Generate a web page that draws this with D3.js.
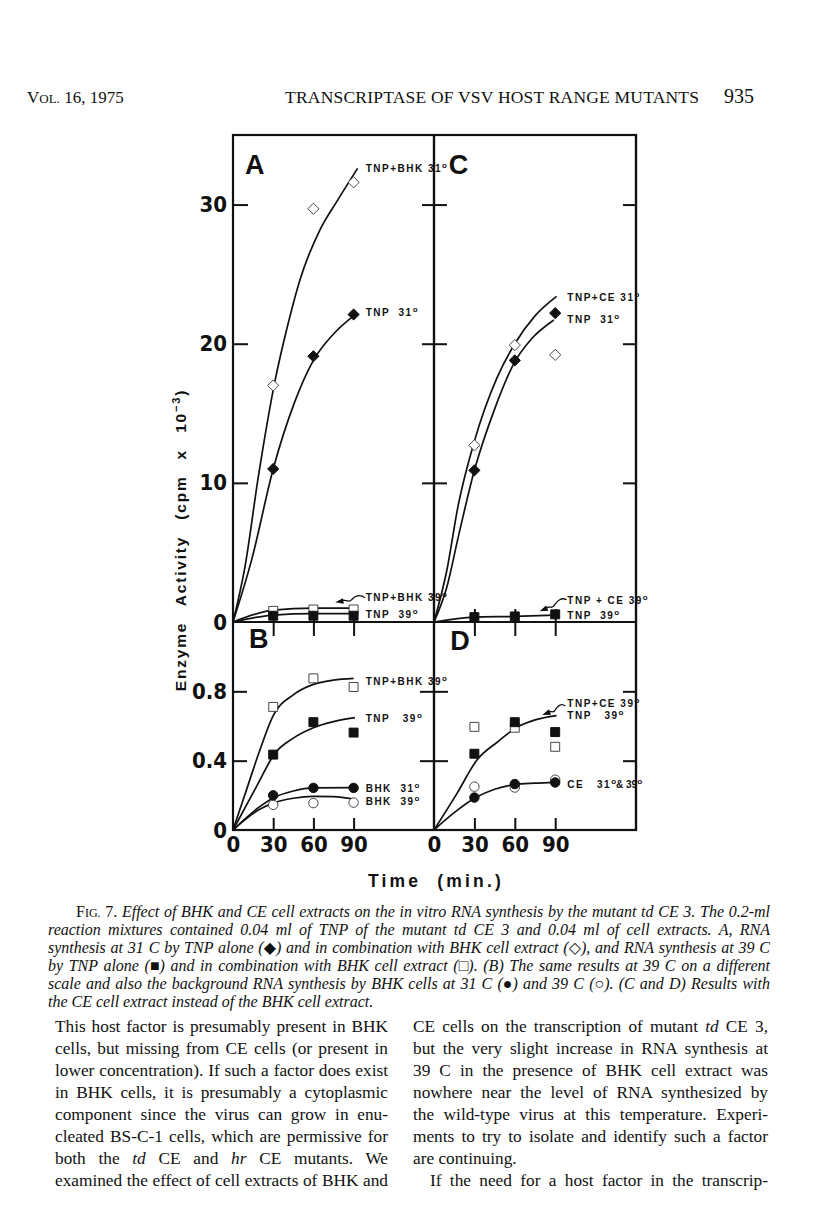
<!DOCTYPE html>
<html>
<head>
<meta charset="utf-8">
<script src="https://cdn.jsdelivr.net/npm/d3@7"></script>
<style>
  body { margin: 0; background: #fff; }
  text { fill: #111; }
</style>
</head>
<body>
<div id="page"></div>
<script>

// ---- values (time in min, activity in cpm x 10^-3) ----
var timeTicks   = [30, 60, 90];
var timeLabels  = [0, 30, 60, 90];
var topTicks    = [10, 20, 30];
var topLabels   = [0, 10, 20, 30];
var lowTicks    = [0.4, 0.8];
var lowLabels   = [0, 0.4, 0.8];

// panel A (31 C and 39 C, BHK extract)
var aTnpBhk31   = [[30, 17.0], [60, 29.7], [90, 31.6]];
var aTnp31      = [[30, 11.0], [60, 19.1], [90, 22.1]];
var aTnpBhk39   = [[30, 0.8], [60, 0.9], [90, 0.9]];
var aTnp39      = [[30, 0.45], [60, 0.45], [90, 0.45]];
var aTnpBhk31Fit = [[0, 0], [9, 4.0], [19, 10.5], [31.5, 17.4], [40, 21.0], [50, 24.6], [65, 28.2], [78, 30.3], [93, 32.6]];
var aTnp31Fit    = [[0, 0], [14, 4.5], [30, 11.0], [46, 15.8], [60, 18.8], [75, 20.7], [90, 22.0]];
var aTnpBhk39Fit = [[0, 0], [30, 0.85], [60, 1.0], [90, 1.0]];
var aTnp39Fit    = [[0, 0], [30, 0.5], [60, 0.6], [90, 0.6]];

// panel C (CE extract)
var cTnpCe31    = [[30, 12.7], [60, 19.9], [90, 19.2]];
var cTnp31      = [[30, 10.9], [60, 18.8], [90, 22.2]];
var cTnp39      = [[30, 0.35], [60, 0.4], [90, 0.55]];
var cTnpCe31Fit = [[0, 0], [9.5, 3.7], [18, 8.4], [30, 13.0], [47, 17.6], [60, 20.0], [75, 22.0], [91, 23.4]];
var cTnp31Fit   = [[0, 0], [9.5, 2.5], [18, 6.1], [30, 10.9], [45, 15.3], [60, 18.7], [72, 20.3], [89, 21.7]];
var cTnp39Fit   = [[0, 0], [30, 0.35], [60, 0.4], [90, 0.5]];

// panel B (39 C on expanded scale, BHK cells alone)
var bTnpBhk39   = [[30, 0.71], [60, 0.875], [90, 0.825]];
var bTnp39      = [[30, 0.435], [60, 0.622], [90, 0.562]];
var bBhk31      = [[30, 0.2], [60, 0.243], [90, 0.243]];
var bBhk39      = [[30, 0.145], [60, 0.155], [90, 0.158]];
var bTnpBhk39Fit = [[0, 0], [10, 0.23], [20, 0.46], [30, 0.66], [45, 0.78], [60, 0.84], [75, 0.865], [90, 0.875]];
var bTnp39Fit    = [[0, 0], [17.5, 0.25], [31.5, 0.445], [45, 0.53], [60, 0.59], [75, 0.625], [91, 0.648]];
var bBhk31Fit    = [[0, 0], [20, 0.135], [30, 0.185], [45, 0.225], [60, 0.243], [90, 0.245]];
var bBhk39Fit    = [[0, 0], [20, 0.12], [30, 0.155], [45, 0.183], [60, 0.194], [75, 0.193], [90, 0.178]];

// panel D (CE extract, CE cells alone)
var dTnpCe39    = [[30, 0.595], [60, 0.59], [90, 0.48]];
var dTnp39      = [[30, 0.44], [60, 0.622], [90, 0.565]];
var dCe31       = [[30, 0.187], [60, 0.265], [90, 0.274]];
var dCe39       = [[30, 0.25], [60, 0.245], [90, 0.29]];
var dTnp39Fit   = [[0, 0], [17, 0.21], [32, 0.405], [47.5, 0.51], [61, 0.59], [75, 0.635], [91, 0.66]];
var dCeFit      = [[0, 0], [15, 0.1], [31, 0.187], [45, 0.235], [60, 0.262], [75, 0.27], [90, 0.275]];

// ---- page text ----
var captionLines = [
  "Effect of BHK and CE cell extracts on the in vitro RNA synthesis by the mutant td CE 3. The 0.2-ml",
  "reaction mixtures contained 0.04 ml of TNP of the mutant td CE 3 and 0.04 ml of cell extracts. A, RNA",
  "synthesis at 31 C by TNP alone (\u25C6) and in combination with BHK cell extract (\u25C7), and RNA synthesis at 39 C",
  "by TNP alone (\u25A0) and in combination with BHK cell extract (\u25A1). (B) The same results at 39 C on a different",
  "scale and also the background RNA synthesis by BHK cells at 31 C (\u25CF) and 39 C (\u25CB). (C and D) Results with",
  "the CE cell extract instead of the BHK cell extract."
];
var leftColumn = [
  "This host factor is presumably present in BHK",
  "cells, but missing from CE cells (or present in",
  "lower concentration). If such a factor does exist",
  "in BHK cells, it is presumably a cytoplasmic",
  "component since the virus can grow in enu-",
  "cleated BS-C-1 cells, which are permissive for",
  "both the _td_ CE and _hr_ CE mutants. We",
  "examined the effect of cell extracts of BHK and"
];
var rightColumn = [
  "CE cells on the transcription of mutant _td_ CE 3,",
  "but the very slight increase in RNA synthesis at",
  "39 C in the presence of BHK cell extract was",
  "nowhere near the level of RNA synthesized by",
  "the wild-type virus at this temperature. Experi-",
  "ments to try to isolate and identify such a factor",
  "are continuing.",
  "If the need for a host factor in the transcrip-"
];

var serif = "'Liberation Serif', 'DejaVu Serif', serif";
var sans  = "'Liberation Sans', Arial, sans-serif";
var narrow = "'Liberation Sans Narrow', 'DejaVu Sans Condensed', sans-serif";

var svg = d3.select('#page').append('svg')
  .attr('width', 816).attr('height', 1214);

// ---- scales ----
var xL = d3.scaleLinear().domain([0, 150]).range([233, 434]);
var xR = d3.scaleLinear().domain([0, 150]).range([434, 636]);
var yT = d3.scaleLinear().domain([0, 35]).range([622, 135]);
var yB = d3.scaleLinear().domain([0, 1.2]).range([830, 622]);

var fig = svg.append('g');

// frame and dividers
fig.append('rect')
  .attr('x', xL(0)).attr('y', yT(35))
  .attr('width', xR(150) - xL(0)).attr('height', yB(0) - yT(35))
  .attr('fill', 'none').attr('stroke', '#111').attr('stroke-width', 2.2);
fig.append('line')
  .attr('x1', xR(0)).attr('x2', xR(0)).attr('y1', yT(35)).attr('y2', yB(0))
  .attr('stroke', '#111').attr('stroke-width', 2.2);
fig.append('line')
  .attr('x1', xL(0)).attr('x2', xR(150)).attr('y1', yT(0)).attr('y2', yT(0))
  .attr('stroke', '#111').attr('stroke-width', 2.2);

function tickAxis(axis, tx, ty) {
  var g = fig.append('g').attr('transform', 'translate(' + tx + ',' + ty + ')').call(axis);
  g.select('.domain').remove();
  g.selectAll('line').attr('stroke', '#111').attr('stroke-width', 2);
  return g;
}

// left axis ticks (inside) and labels
tickAxis(d3.axisRight(yT).tickValues(topTicks).tickSize(15).tickFormat(''), xL(0), 0);
tickAxis(d3.axisRight(yB).tickValues(lowTicks).tickSize(14).tickFormat(''), xL(0), 0);
// ticks crossing the middle divider
tickAxis(d3.axisRight(yT).tickValues(topTicks).tickSize(25).tickFormat(''), xR(0) - 12, 0);
tickAxis(d3.axisRight(yB).tickValues(lowTicks).tickSize(28).tickFormat(''), xR(0) - 14, 0);
// right frame ticks (inside)
tickAxis(d3.axisLeft(yT).tickValues(topTicks).tickSize(13).tickFormat(''), xR(150), 0);
tickAxis(d3.axisLeft(yB).tickValues(lowTicks).tickSize(13).tickFormat(''), xR(150), 0);
// time ticks crossing the horizontal divider, and at the bottom
[xL, xR].forEach(function(x) {
  tickAxis(d3.axisBottom(x).tickValues(timeTicks).tickSize(27).tickFormat(''), 0, yT(0) - 13);
  tickAxis(d3.axisTop(x).tickValues(timeTicks).tickSize(12).tickFormat(''), 0, yB(0));
});

function labelAxis(axis, tx, ty) {
  var g = fig.append('g').attr('transform', 'translate(' + tx + ',' + ty + ')').call(axis);
  g.select('.domain').remove();
  g.selectAll('line').remove();
  g.selectAll('text')
    .attr('font-family', narrow).attr('font-weight', 'bold')
    .attr('font-size', 22).attr('fill', '#111');
  return g;
}
labelAxis(d3.axisLeft(yT).tickValues(topLabels).tickSize(0).tickPadding(6).tickFormat(d3.format('d')), xL(0), 0);
labelAxis(d3.axisLeft(yB).tickValues(lowLabels).tickSize(0).tickPadding(6)
  .tickFormat(function(d) { return d ? d3.format('.1f')(d) : '0'; }), xL(0), 0);
[xL, xR].forEach(function(x) {
  labelAxis(d3.axisBottom(x).tickValues(timeLabels).tickSize(0).tickPadding(6).tickFormat(d3.format('d')), 0, yB(0));
});

// ---- curves ----
var curves = [
  [aTnpBhk31Fit, xL, yT], [aTnp31Fit, xL, yT], [aTnpBhk39Fit, xL, yT], [aTnp39Fit, xL, yT],
  [cTnpCe31Fit, xR, yT], [cTnp31Fit, xR, yT], [cTnp39Fit, xR, yT],
  [bTnpBhk39Fit, xL, yB], [bTnp39Fit, xL, yB], [bBhk31Fit, xL, yB], [bBhk39Fit, xL, yB],
  [dTnp39Fit, xR, yB], [dCeFit, xR, yB]
];
curves.forEach(function(c) {
  var line = d3.line().curve(d3.curveMonotoneX)
    .x(function(d) { return c[1](d[0]); })
    .y(function(d) { return c[2](d[1]); });
  fig.append('path').datum(c[0])
    .attr('d', line)
    .attr('fill', 'none').attr('stroke', '#111').attr('stroke-width', 1.7);
});

// ---- markers ----
var symbolSize = { diamond: 80, square: 80, circle: 70 };
var symbolType = { diamond: d3.symbolDiamond2, square: d3.symbolSquare, circle: d3.symbolCircle };
function marks(data, x, y, shape, filled) {
  fig.append('g').selectAll('path').data(data).enter().append('path')
    .attr('transform', function(d) { return 'translate(' + x(d[0]) + ',' + y(d[1]) + ')'; })
    .attr('d', d3.symbol().type(symbolType[shape]).size(symbolSize[shape]))
    .attr('fill', filled ? '#111' : '#fff')
    .attr('stroke', filled ? '#111' : '#333')
    .attr('stroke-width', filled ? 1 : 0.9);
}
marks(aTnpBhk31, xL, yT, 'diamond', false);
marks(aTnp31, xL, yT, 'diamond', true);
marks(aTnpBhk39, xL, yT, 'square', false);
marks(aTnp39, xL, yT, 'square', true);
marks(cTnpCe31, xR, yT, 'diamond', false);
marks(cTnp31, xR, yT, 'diamond', true);
marks(cTnp39, xR, yT, 'square', true);
marks(bTnpBhk39, xL, yB, 'square', false);
marks(bTnp39, xL, yB, 'square', true);
marks(bBhk39, xL, yB, 'circle', false);
marks(bBhk31, xL, yB, 'circle', true);
marks(dTnpCe39, xR, yB, 'square', false);
marks(dTnp39, xR, yB, 'square', true);
marks(dCe39, xR, yB, 'circle', false);
marks(dCe31, xR, yB, 'circle', true);

// ---- panel letters ----
[['A', xL, yT, 9, 32.2], ['C', xR, yT, 11, 32.2], ['B', xL, yB, 12, 1.05], ['D', xR, yB, 12, 1.04]]
  .forEach(function(p) {
    fig.append('text').attr('x', p[1](p[3])).attr('y', p[2](p[4]))
      .attr('font-family', sans).attr('font-weight', 'bold').attr('font-size', 27)
      .text(p[0]);
  });

// ---- curve labels ----
var curveLabels = [
  ['TNP+BHK 31', xL, yT, 32.35], ['TNP  31', xL, yT, 22.0],
  ['TNP+BHK 39', xL, yT, 1.51], ['TNP  39', xL, yT, 0.29],
  ['TNP+CE 31', xR, yT, 23.1], ['TNP  31', xR, yT, 21.5],
  ['TNP + CE 39', xR, yT, 1.29], ['TNP  39', xR, yT, 0.22],
  ['TNP+BHK 39', xL, yB, 0.837], ['TNP   39', xL, yB, 0.623],
  ['BHK  31', xL, yB, 0.219], ['BHK  39', xL, yB, 0.144],
  ['TNP+CE 39', xR, yB, 0.707], ['TNP   39', xR, yB, 0.64],
  ['CE   31', xR, yB, 0.242, '& 39']
];
curveLabels.forEach(function(l) {
  var t = fig.append('text').attr('x', l[1](99)).attr('y', l[2](l[3]))
    .attr('font-family', sans).attr('font-weight', 'bold').attr('font-size', 10)
    .attr('letter-spacing', 1.5).style('white-space', 'pre');
  t.append('tspan').text(l[0]);
  t.append('tspan').attr('font-size', 8).attr('dy', -4).attr('letter-spacing', 0).text('o');
  if (l[4]) {
    t.append('tspan').attr('dy', 4).attr('letter-spacing', 0).text(l[4]);
    t.append('tspan').attr('font-size', 8).attr('dy', -4).attr('letter-spacing', 0).text('o');
  }
});
// redraw the dividers over labels that run into them
fig.append('line')
  .attr('x1', xR(0)).attr('x2', xR(0)).attr('y1', yT(35)).attr('y2', yB(0))
  .attr('stroke', '#111').attr('stroke-width', 2.2);
fig.append('line')
  .attr('x1', xR(150)).attr('x2', xR(150)).attr('y1', yT(35)).attr('y2', yB(0))
  .attr('stroke', '#111').attr('stroke-width', 2.2);

// ---- wavy pointer arrows beside the 39 C labels ----
var pointers = [
  [xL, yT, 98.5, 1.75, 78.5, 1.45],
  [xR, yT, 98.5, 1.6, 80.5, 0.85],
  [xR, yB, 97.5, 0.715, 82.5, 0.67]
];
pointers.forEach(function(p) {
  var x0 = p[0](p[2]), y0 = p[1](p[3]), x1 = p[0](p[4]), y1 = p[1](p[5]);
  var dx = x1 - x0, dy = y1 - y0;
  var path = d3.path();
  path.moveTo(x0, y0);
  path.bezierCurveTo(x0 + dx * 0.2, y0 + dy * 0.2 - 5, x0 + dx * 0.4, y0 + dy * 0.4 - 3, x0 + dx * 0.5, y0 + dy * 0.5);
  path.bezierCurveTo(x0 + dx * 0.6, y0 + dy * 0.6 + 4, x0 + dx * 0.8, y0 + dy * 0.8 - 4, x1, y1);
  fig.append('path').attr('d', path.toString())
    .attr('fill', 'none').attr('stroke', '#111').attr('stroke-width', 1.3);
  var ang = Math.atan2(dy, dx);
  var head = [[x1 + Math.cos(ang) * 3, y1 + Math.sin(ang) * 3],
              [x1 - Math.cos(ang - 0.5) * 6, y1 - Math.sin(ang - 0.5) * 6],
              [x1 - Math.cos(ang + 0.5) * 6, y1 - Math.sin(ang + 0.5) * 6]];
  fig.append('path').attr('d', 'M' + head.join('L') + 'Z').attr('fill', '#111');
});

// ---- axis titles ----
var yTitle = fig.append('text')
  .attr('transform', 'translate(186,540) rotate(-90)')
  .attr('text-anchor', 'middle')
  .attr('font-family', sans).attr('font-weight', 'bold').attr('font-size', 15.5)
  .attr('letter-spacing', 1.8).attr('word-spacing', 10);
yTitle.append('tspan').text('Enzyme Activity (cpm x 10');
yTitle.append('tspan').attr('font-size', 11).attr('dy', -6).text('\u22123');
yTitle.append('tspan').attr('dy', 6).text(')');

fig.append('text').attr('x', 436).attr('y', 887)
  .attr('text-anchor', 'middle')
  .attr('font-family', sans).attr('font-weight', 'bold').attr('font-size', 17.5)
  .attr('letter-spacing', 3.2).attr('word-spacing', 8)
  .text('Time (min.)');

// ---- running head ----
var head = svg.append('text').attr('x', 27).attr('y', 103)
  .attr('font-family', serif).attr('font-size', 17);
head.append('tspan').text('V');
head.append('tspan').attr('font-size', 13).text('OL.');
head.append('tspan').text(' 16, 1975');
svg.append('text').attr('x', 285).attr('y', 103)
  .attr('font-family', serif).attr('font-size', 17.5)
  .attr('textLength', 414).attr('lengthAdjust', 'spacing')
  .text('TRANSCRIPTASE OF VSV HOST RANGE MUTANTS');
svg.append('text').attr('x', 724).attr('y', 103)
  .attr('font-family', serif).attr('font-size', 20).text('935');

// ---- justified text helper ----
function justify(t, width) {
  var n = t.node();
  var w = n.getComputedTextLength();
  var spaces = (n.textContent.match(/ /g) || []).length;
  if (spaces) t.attr('word-spacing', (width - w) / spaces);
}
function markup(t, s) {
  s.split('_').forEach(function(part, i) {
    if (part) t.append('tspan').attr('font-style', i % 2 ? 'italic' : null).text(part);
  });
}

// caption
captionLines.forEach(function(s, i) {
  var x = i === 0 ? 76 : 48;
  var t = svg.append('text').attr('x', x).attr('y', 917 + i * 18)
    .attr('font-family', serif).attr('font-size', 16).style('white-space', 'pre');
  if (i === 0) {
    t.append('tspan').text('F');
    t.append('tspan').attr('font-size', 12).text('IG.');
    t.append('tspan').text(' 7. ');
  }
  t.append('tspan').attr('font-style', 'italic').text(s);
  if (i < captionLines.length - 1) justify(t, 770 - x);
});

// body columns
leftColumn.forEach(function(s, i) {
  var t = svg.append('text').attr('x', 55).attr('y', 1032 + i * 22)
    .attr('font-family', serif).attr('font-size', 17.3);
  markup(t, s);
  justify(t, 388 - 55);
});
rightColumn.forEach(function(s, i) {
  var x = i === 7 ? 430 : 413;
  var t = svg.append('text').attr('x', x).attr('y', 1032 + i * 22)
    .attr('font-family', serif).attr('font-size', 17.3);
  markup(t, s);
  if (i !== 6) justify(t, 768 - x);
});

</script>
</body>
</html>
